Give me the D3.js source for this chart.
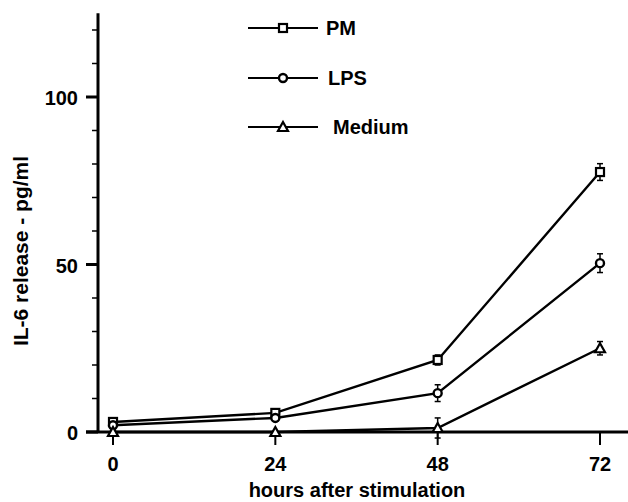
<!DOCTYPE html>
<html><head><meta charset="utf-8">
<script src="https://cdn.jsdelivr.net/npm/d3@7"></script>
<style>body{margin:0;background:#fff}svg{display:block}</style>
</head><body>
<script>
const hours = [0, 24, 48, 72];
const xTickLabels = ["0", "24", "48", "72"];
const yMajorTicks = [0, 50, 100];
const yMinorTicks = [10, 20, 30, 40, 60, 70, 80, 90, 110, 120];
const seriesNames = ["PM", "LPS", "Medium"];
const pmValues = [3, 5.7, 21.5, 77.6];
const pmErrors = [1, 1, 1.5, 2.5];
const lpsValues = [2, 4.2, 11.6, 50.4];
const lpsErrors = [1, 1, 2.5, 2.8];
const mediumValues = [0, 0, 1.2, 25];
const mediumErrors = [0, 0, 3, 2];
const markers = ["square", "circle", "triangle"];

const W = 628, H = 502;
const svg = d3.select("body").append("svg").attr("width", W).attr("height", H);
const x = d3.scaleLinear().domain([0, 72]).range([113, 600]);
const y = d3.scaleLinear().domain([0, 100]).range([432, 97]);
const font = "Arial, 'Liberation Sans', sans-serif";

// axes
svg.append("line").attr("x1", 98).attr("x2", 98).attr("y1", y(125)).attr("y2", 433)
  .attr("stroke", "#000").attr("stroke-width", 3);
svg.append("line").attr("x1", 86).attr("x2", W).attr("y1", 432).attr("y2", 432)
  .attr("stroke", "#000").attr("stroke-width", 3);

svg.selectAll(".ymaj").data(yMajorTicks).enter().append("line")
  .attr("x1", 86).attr("x2", 98).attr("y1", d => y(d)).attr("y2", d => y(d))
  .attr("stroke", "#000").attr("stroke-width", 3);
svg.selectAll(".ymin").data(yMinorTicks).enter().append("line")
  .attr("x1", 92).attr("x2", 98).attr("y1", d => y(d)).attr("y2", d => y(d))
  .attr("stroke", "#000").attr("stroke-width", 1.5);
svg.selectAll(".ylab").data(yMajorTicks).enter().append("text")
  .attr("x", 78).attr("y", d => y(d) + 8).attr("text-anchor", "end")
  .attr("font-family", font).attr("font-weight", "bold").attr("font-size", 20)
  .text(d => d);

svg.selectAll(".xt").data(hours).enter().append("line")
  .attr("x1", d => x(d)).attr("x2", d => x(d)).attr("y1", 432).attr("y2", 445)
  .attr("stroke", "#000").attr("stroke-width", 2);
svg.selectAll(".xlab").data(hours).enter().append("text")
  .attr("x", d => x(d)).attr("y", 471).attr("text-anchor", "middle")
  .attr("font-family", font).attr("font-weight", "bold").attr("font-size", 20)
  .text((d, i) => xTickLabels[i]);

svg.append("text").attr("x", 357).attr("y", 497).attr("text-anchor", "middle")
  .attr("font-family", font).attr("font-weight", "bold").attr("font-size", 20)
  .text("hours after stimulation");
svg.append("text").attr("transform", "translate(28,251) rotate(-90)").attr("text-anchor", "middle")
  .attr("font-family", font).attr("font-weight", "bold").attr("font-size", 21)
  .text("IL-6 release - pg/ml");

function drawMarker(g, type, cx, cy) {
  if (type === "square") {
    g.append("rect").attr("x", cx - 4).attr("y", cy - 4).attr("width", 8).attr("height", 8)
      .attr("fill", "#fff").attr("stroke", "#000").attr("stroke-width", 2.2);
  } else if (type === "circle") {
    g.append("circle").attr("cx", cx).attr("cy", cy).attr("r", 4)
      .attr("fill", "#fff").attr("stroke", "#000").attr("stroke-width", 2.4);
  } else {
    g.append("path").attr("d", `M${cx},${cy - 5}L${cx + 5},${cy + 4}L${cx - 5},${cy + 4}Z`)
      .attr("fill", "#fff").attr("stroke", "#000").attr("stroke-width", 2.2);
  }
}

const allValues = [pmValues, lpsValues, mediumValues];
const allErrors = [pmErrors, lpsErrors, mediumErrors];
const line = d3.line().x((d, i) => x(hours[i])).y(d => y(d));

allValues.forEach((vals, s) => {
  const g = svg.append("g");
  g.append("path").attr("d", line(vals)).attr("fill", "none").attr("stroke", "#000").attr("stroke-width", 2.4);
  vals.forEach((v, i) => {
    const e = allErrors[s][i];
    if (e > 0) {
      const cx = x(hours[i]);
      g.append("line").attr("x1", cx).attr("x2", cx).attr("y1", y(v + e)).attr("y2", y(v - e))
        .attr("stroke", "#000").attr("stroke-width", 1.5);
      [v + e, v - e].forEach(t => g.append("line").attr("x1", cx - 3).attr("x2", cx + 3)
        .attr("y1", y(t)).attr("y2", y(t)).attr("stroke", "#000").attr("stroke-width", 1.5));
    }
    drawMarker(g, markers[s], x(hours[i]), y(v));
  });
});

// legend
const legendY = [28, 78, 127];
const legendTextX = [326, 328, 333];
seriesNames.forEach((name, s) => {
  const g = svg.append("g");
  g.append("line").attr("x1", 248).attr("x2", 318).attr("y1", legendY[s]).attr("y2", legendY[s])
    .attr("stroke", "#000").attr("stroke-width", 2);
  drawMarker(g, markers[s], 283, legendY[s]);
  g.append("text").attr("x", legendTextX[s]).attr("y", legendY[s] + 7)
    .attr("font-family", font).attr("font-weight", "bold").attr("font-size", 20).text(name);
});
</script>
</body></html>
